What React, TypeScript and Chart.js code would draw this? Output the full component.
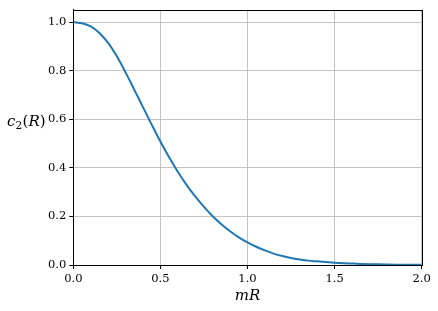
import React, { useEffect, useRef } from 'react';
import { Chart, registerables } from 'chart.js';
Chart.register(...registerables);

const mRValues = [
  0.0, 0.05, 0.1, 0.15, 0.2, 0.25, 0.3, 0.35, 0.4, 0.45,
  0.5, 0.55, 0.6, 0.65, 0.7, 0.75, 0.8, 0.85, 0.9, 0.95,
  1.0, 1.05, 1.1, 1.15, 1.2, 1.25, 1.3, 1.35, 1.4, 1.45,
  1.5, 1.55, 1.6, 1.65, 1.7, 1.75, 1.8, 1.85, 1.9, 1.95, 2.0,
];
const c2Values = [
  1.0, 0.995, 0.982, 0.955, 0.914, 0.859, 0.793, 0.722, 0.65, 0.578,
  0.508, 0.443, 0.384, 0.33, 0.282, 0.239, 0.201, 0.168, 0.139, 0.114,
  0.093, 0.075, 0.06, 0.047, 0.037, 0.029, 0.023, 0.018, 0.015, 0.012,
  0.0095, 0.0075, 0.006, 0.0046, 0.0035, 0.0027, 0.002, 0.0015, 0.0011, 0.0008, 0.0006,
];
const xTicks = [0, 0.5, 1.0, 1.5, 2.0];
const yTicks = [0, 0.2, 0.4, 0.6, 0.8, 1.0];
const xTitle = 'mR';
const yTitleParts = [
  { t: 'c', italic: true, sub: false },
  { t: '2', italic: false, sub: true },
  { t: '(', italic: false, sub: false },
  { t: 'R', italic: true, sub: false },
  { t: ')', italic: false, sub: false },
];

const FONT = "'DejaVu Serif', 'Liberation Serif', serif";

const frameAndLabel = {
  id: 'frameAndLabel',
  afterDraw(chart: any) {
    const { ctx, chartArea } = chart;
    ctx.save();
    ctx.strokeStyle = '#000';
    ctx.lineWidth = 1;
    ctx.strokeRect(
      Math.round(chartArea.left) + 0.5,
      Math.round(chartArea.top) + 0.5,
      Math.round(chartArea.right) - Math.round(chartArea.left),
      Math.round(chartArea.bottom) - Math.round(chartArea.top)
    );
    // horizontal y-axis label
    let x = 7;
    const base = 126;
    ctx.fillStyle = '#000';
    ctx.textBaseline = 'alphabetic';
    ctx.textAlign = 'left';
    for (const p of yTitleParts) {
      const size = p.sub ? 10.5 : 15;
      ctx.font = `${p.italic ? 'italic ' : ''}${size}px ${FONT}`;
      ctx.fillText(p.t, x, p.sub ? base + 3 : base);
      x += ctx.measureText(p.t).width + (p.sub ? 0.5 : 0);
    }
    ctx.restore();
  },
};

export default function App() {
  const ref = useRef<HTMLCanvasElement | null>(null);
  useEffect(() => {
    if (!ref.current) return;
    const chart = new Chart(ref.current, {
      type: 'line',
      data: {
        datasets: [
          {
            data: mRValues.map((x, i) => ({ x, y: c2Values[i] })),
            borderColor: '#1f77b4',
            borderWidth: 2,
            pointRadius: 0,
            fill: false,
            cubicInterpolationMode: 'monotone',
          },
        ],
      },
      options: {
        responsive: false,
        animation: false,
        events: [],
        layout: { padding: { left: 0, right: 16.3, top: 7, bottom: 0 } },
        plugins: { legend: { display: false }, tooltip: { enabled: false } },
        scales: {
          x: {
            type: 'linear',
            min: 0,
            max: 2,
            afterFit: (s: any) => { s.height = 46; },
            afterBuildTicks: (s: any) => { s.ticks = xTicks.map((v) => ({ value: v })); },
            ticks: {
              color: '#000',
              padding: 3,
              maxRotation: 0,
              font: { family: FONT, size: 11.5 },
              callback: (v: any) => Number(v).toFixed(1),
            },
            grid: { color: '#c4c4c4', lineWidth: 1, tickLength: 4, tickColor: '#000', tickWidth: 1 },
            border: { display: true, color: '#000', width: 1 },
            title: {
              display: true,
              text: xTitle,
              color: '#000',
              font: { family: FONT, size: 15, style: 'italic' },
              padding: { top: 0, bottom: 6.3 },
            },
          },
          y: {
            type: 'linear',
            min: 0,
            max: 1.05,
            afterFit: (s: any) => { s.width = 73.3; },
            afterBuildTicks: (s: any) => { s.ticks = yTicks.map((v) => ({ value: v })); },
            ticks: {
              color: '#000',
              padding: 3,
              font: { family: FONT, size: 11.5 },
              callback: (v: any) => Number(v).toFixed(1),
            },
            grid: { color: '#c4c4c4', lineWidth: 1, tickLength: 4, tickColor: '#000', tickWidth: 1 },
            border: { display: true, color: '#000', width: 1 },
          },
        },
      },
      plugins: [frameAndLabel],
    } as any);
    return () => chart.destroy();
  }, []);
  return (
    <div style={{ position: 'fixed', left: 0, top: 0, width: 438, height: 311, background: '#fff' }}>
      <canvas ref={ref} width={438} height={311} style={{ display: 'block' }} />
    </div>
  );
}
